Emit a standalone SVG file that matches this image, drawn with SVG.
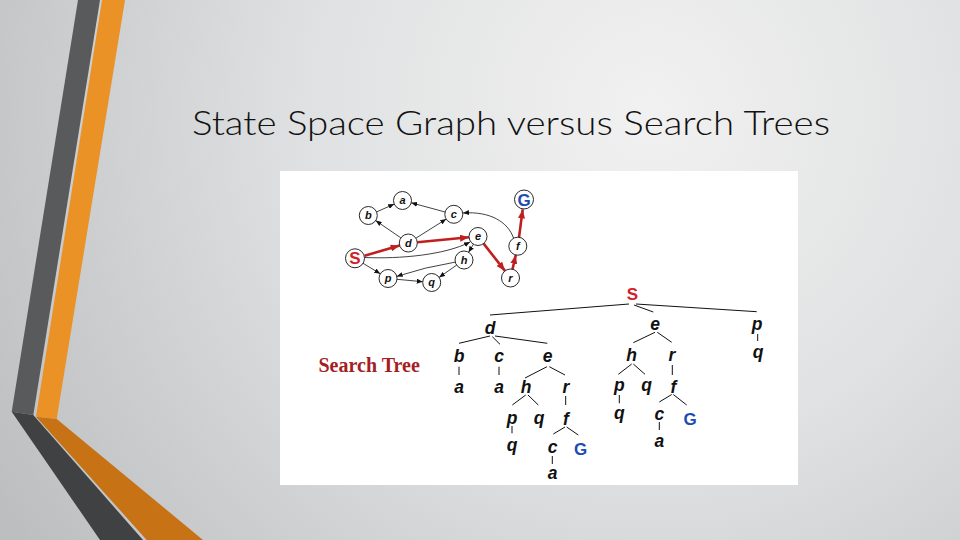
<svg xmlns="http://www.w3.org/2000/svg" width="960" height="540" viewBox="0 0 960 540">
<defs>
<radialGradient id="bg" gradientUnits="userSpaceOnUse" cx="650" cy="110" r="760">
<stop offset="0" stop-color="#f1f1f1"/>
<stop offset="0.45" stop-color="#e0e1e2"/>
<stop offset="1" stop-color="#bcbec0"/>
</radialGradient>
<marker id="ah" markerUnits="userSpaceOnUse" markerWidth="6" markerHeight="5" refX="6" refY="2.5" orient="auto">
<path d="M0,0 L6,2.5 L0,5 Z" fill="#111"/>
</marker>
<marker id="ahr" markerUnits="userSpaceOnUse" markerWidth="9" markerHeight="7" refX="9" refY="3.5" orient="auto">
<path d="M0,0 L9,3.5 L0,7 Z" fill="#c11f1f"/>
</marker>
<style>
.ttl{font-family:Lato,"Open Sans","Liberation Sans",sans-serif;font-size:33px;font-weight:300;fill:#111}
.gn{fill:#fff;stroke:#111;stroke-width:0.9}
.gl{font-family:"Liberation Sans",Arial,sans-serif;font-size:11px;font-weight:bold;font-style:italic;fill:#111;text-anchor:middle}
.ge{fill:none;stroke:#111;stroke-width:0.8;marker-end:url(#ah)}
.re{fill:none;stroke:#c11f1f;stroke-width:2.6;marker-end:url(#ahr)}
.tl{font-family:"Liberation Sans",Arial,sans-serif;font-size:17.5px;font-weight:bold;font-style:italic;fill:#111;text-anchor:middle}
.tS{font-family:"Liberation Sans",Arial,sans-serif;font-size:17px;font-weight:bold;fill:#d32027;text-anchor:middle}
.tG{font-family:"Liberation Sans",Arial,sans-serif;font-size:17px;font-weight:bold;fill:#1d4bb5;text-anchor:middle}
.tk{stroke:#111;stroke-width:1;fill:none}
</style>
</defs>
<rect width="960" height="540" fill="url(#bg)"/>
<g id="bands">
<polygon points="78,0 100,0 33.3,415 11.7,411.7" fill="#595a5c"/>
<polygon points="102,0 125,0 56.7,419 36,416.7" fill="#eb9226"/>
<polygon points="11.7,411.7 33.3,415 143,540 100,540" fill="#404142"/>
<polygon points="36,416.7 56.7,419 203,540 146.7,540" fill="#c67215"/>
</g>
<text class="ttl" x="192" y="135" textLength="638" lengthAdjust="spacingAndGlyphs">State Space Graph versus Search Trees</text>
<rect x="280" y="171" width="518" height="314" fill="#ffffff"/>
<g id="graph-edges">
<line class="ge" x1="376.6" y1="211.9" x2="394.2" y2="204.1"/>
<line class="ge" x1="445.1" y1="212" x2="411.2" y2="202.8"/>
<line class="ge" x1="400.9" y1="237.9" x2="375.7" y2="220.6"/>
<line class="ge" x1="415.9" y1="238.2" x2="446.2" y2="219.1"/>
<path class="ge" d="M513.5,238 C508,222 490,211 463,213"/>
<path class="ge" d="M364.5,257.5 C400,259 445,255 470,242"/>
<line class="ge" x1="363.1" y1="263.3" x2="380.3" y2="273.8"/>
<line class="ge" x1="473.4" y1="244.2" x2="468.6" y2="252.3"/>
<path class="ge" d="M455.3,262.1 Q425,267 396.7,276.4"/>
<line class="ge" x1="456.6" y1="265.1" x2="439.1" y2="277.4"/>
<line class="ge" x1="397" y1="279.3" x2="422.7" y2="281.7"/>
<line class="re" x1="364.6" y1="255.7" x2="399.6" y2="245.5"/>
<line class="re" x1="417.3" y1="242.2" x2="469" y2="237.3"/>
<line class="re" x1="483.6" y1="243.6" x2="505" y2="270.9"/>
<line class="re" x1="512.5" y1="269.2" x2="515.8" y2="255"/>
<line class="re" x1="519" y1="237.3" x2="522.7" y2="209.4"/>
</g>
<g id="node-a"><circle class="gn" cx="402.5" cy="200.5" r="9"/><text class="gl" x="402.5" y="204.3">a</text></g>
<g id="node-b"><circle class="gn" cx="368.3" cy="215.5" r="9"/><text class="gl" x="368.3" y="219.3">b</text></g>
<g id="node-c"><circle class="gn" cx="453.8" cy="214.3" r="9"/><text class="gl" x="453.8" y="218.1">c</text></g>
<g id="node-d"><circle class="gn" cx="408.3" cy="243" r="9"/><text class="gl" x="408.3" y="246.8">d</text></g>
<g id="node-e"><circle class="gn" cx="478" cy="236.5" r="9"/><text class="gl" x="478" y="240.3">e</text></g>
<g id="node-S"><circle class="gn" cx="355" cy="258.3" r="9.5"/><text class="tS" x="355" y="264.3">S</text></g>
<g id="node-h"><circle class="gn" cx="464" cy="260" r="9"/><text class="gl" x="464" y="263.8">h</text></g>
<g id="node-p"><circle class="gn" cx="388" cy="278.5" r="9"/><text class="gl" x="388" y="282.3">p</text></g>
<g id="node-q"><circle class="gn" cx="431.7" cy="282.5" r="9"/><text class="gl" x="431.7" y="286.3">q</text></g>
<g id="node-r"><circle class="gn" cx="510.5" cy="278" r="9"/><text class="gl" x="510.5" y="281.8">r</text></g>
<g id="node-f"><circle class="gn" cx="517.8" cy="246.2" r="9"/><text class="gl" x="517.8" y="250">f</text></g>
<g id="node-G"><circle class="gn" cx="524" cy="199.5" r="9.5"/><text class="tG" x="524" y="205.5">G</text></g>
<text x="318.5" y="371.7" font-family="'Liberation Serif','Times New Roman',serif" font-size="20" font-weight="bold" fill="#a31f24">Search Tree</text>
<g id="tree-edges">
<line class="tk" x1="629" y1="304" x2="490" y2="315"/>
<line class="tk" x1="634" y1="305" x2="653.3" y2="312"/>
<line class="tk" x1="636" y1="304" x2="756.7" y2="311.7"/>
<line class="tk" x1="490" y1="336" x2="459" y2="343.3"/>
<line class="tk" x1="492.3" y1="336.7" x2="500" y2="344.3"/>
<line class="tk" x1="495" y1="336" x2="547.3" y2="343.3"/>
<line class="tk" x1="655" y1="332.3" x2="633.3" y2="342.7"/>
<line class="tk" x1="657.3" y1="332.3" x2="671.7" y2="342.3"/>
<line class="tk" x1="757.7" y1="334" x2="757.7" y2="341"/>
<line class="tk" x1="459" y1="366.7" x2="459" y2="375"/>
<line class="tk" x1="499" y1="366.7" x2="499" y2="375"/>
<line class="tk" x1="547" y1="366.7" x2="525" y2="378"/>
<line class="tk" x1="549.3" y1="366.7" x2="565" y2="375"/>
<line class="tk" x1="525.7" y1="395" x2="512.3" y2="405"/>
<line class="tk" x1="528" y1="395" x2="538.3" y2="405"/>
<line class="tk" x1="565.7" y1="396" x2="565.7" y2="405"/>
<line class="tk" x1="512" y1="426" x2="512" y2="433.3"/>
<line class="tk" x1="565" y1="427" x2="553.3" y2="434"/>
<line class="tk" x1="566.7" y1="427" x2="578.3" y2="435"/>
<line class="tk" x1="552.3" y1="456" x2="552.3" y2="464"/>
<line class="tk" x1="631.7" y1="364" x2="618.3" y2="374.3"/>
<line class="tk" x1="633.3" y1="364" x2="645" y2="374.3"/>
<line class="tk" x1="672.3" y1="365" x2="672.3" y2="375"/>
<line class="tk" x1="619.3" y1="395" x2="619.3" y2="403.3"/>
<line class="tk" x1="671.7" y1="394.5" x2="659.3" y2="402"/>
<line class="tk" x1="673.3" y1="394.5" x2="686.7" y2="405"/>
<line class="tk" x1="659.3" y1="422" x2="659.3" y2="430"/>
</g>
<g id="tree-nodes">
<text class="tS" x="632.3" y="300">S</text>
<text class="tl" x="490" y="334">d</text>
<text class="tl" x="655" y="330">e</text>
<text class="tl" x="757" y="330">p</text>
<text class="tl" x="758" y="357.5">q</text>
<text class="tl" x="459" y="362">b</text>
<text class="tl" x="499" y="362">c</text>
<text class="tl" x="547.5" y="362">e</text>
<text class="tl" x="459" y="393">a</text>
<text class="tl" x="499" y="393">a</text>
<text class="tl" x="526" y="393">h</text>
<text class="tl" x="566" y="393">r</text>
<text class="tl" x="512" y="423.5">p</text>
<text class="tl" x="539" y="423.5">q</text>
<text class="tl" x="566" y="425">f</text>
<text class="tl" x="512" y="451">q</text>
<text class="tl" x="552.5" y="452.5">c</text>
<text class="tG" x="580.7" y="455">G</text>
<text class="tl" x="552.5" y="479.3">a</text>
<text class="tl" x="631.7" y="361">h</text>
<text class="tl" x="672" y="361">r</text>
<text class="tl" x="619.3" y="390.5">p</text>
<text class="tl" x="646.7" y="390.5">q</text>
<text class="tl" x="673.3" y="393">f</text>
<text class="tl" x="619.3" y="418.5">q</text>
<text class="tl" x="659.3" y="420">c</text>
<text class="tG" x="690" y="424.5">G</text>
<text class="tl" x="659.3" y="447.3">a</text>
</g>
</svg>
